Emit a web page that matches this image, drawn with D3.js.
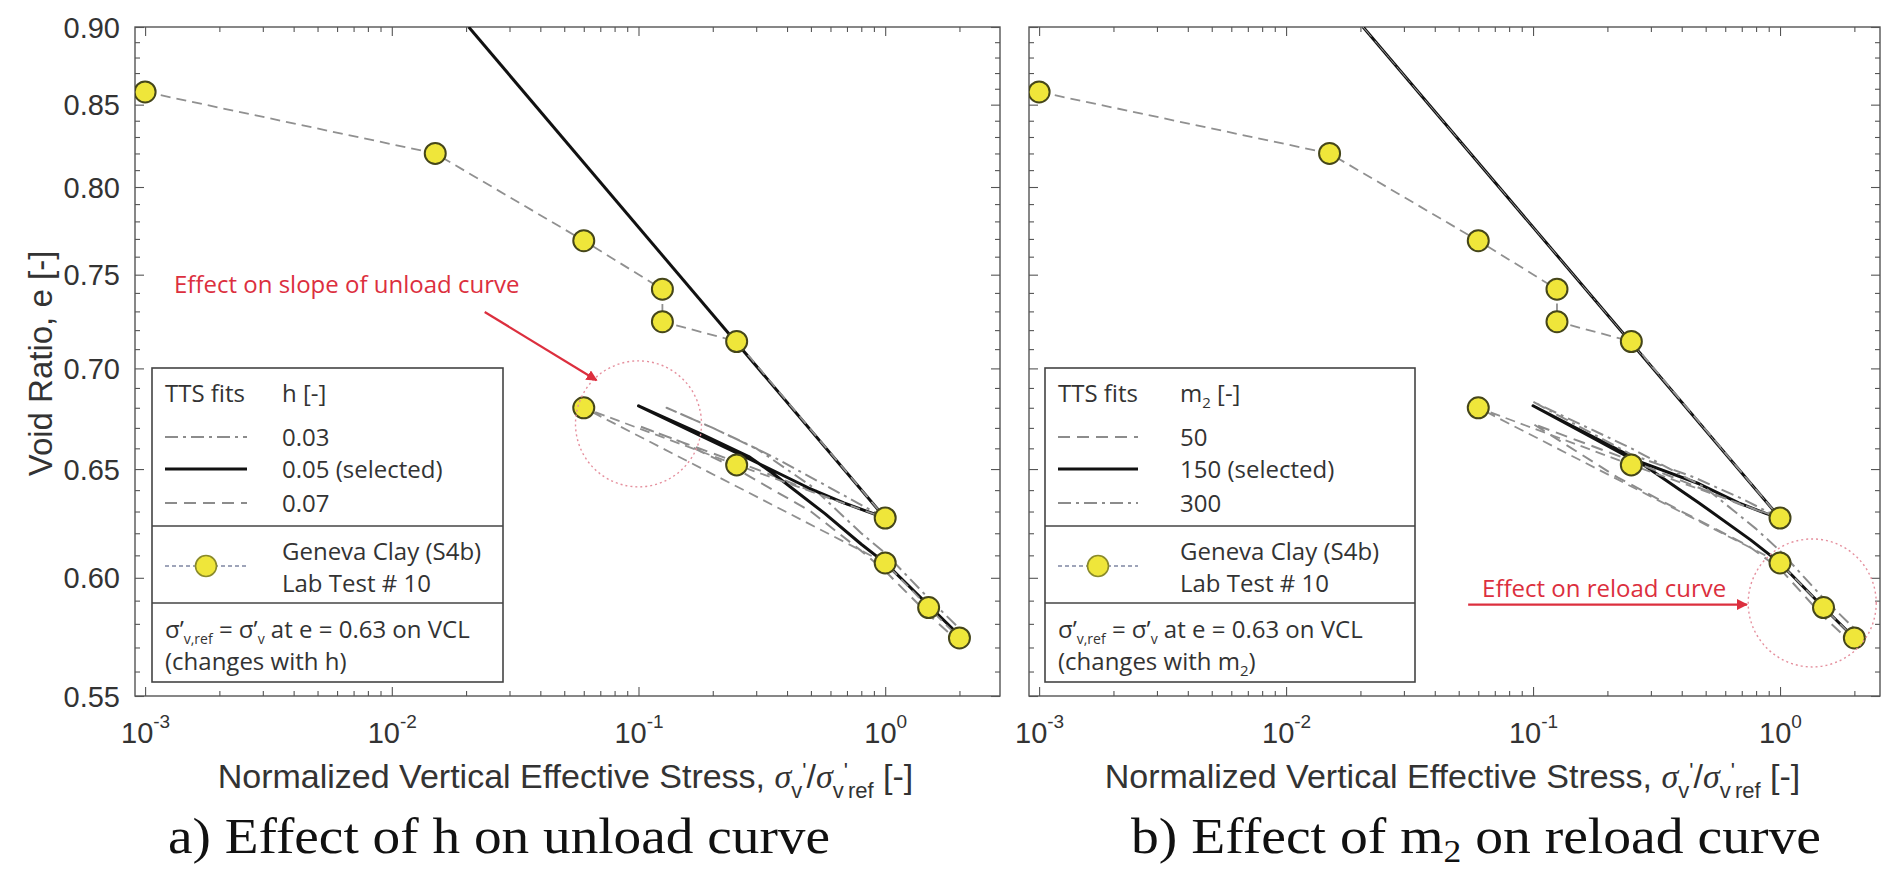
<!DOCTYPE html>
<html>
<head>
<meta charset="utf-8">
<script src="https://cdn.jsdelivr.net/npm/d3@7/dist/d3.min.js"></script>
<style>
  body { margin: 0; background: #fff; }
</style>
</head>
<body>
<div id="chart"></div>
<script>
// lab test #10 points, in test order (normalized stress, void ratio)
var labStress = [0.001, 0.015, 0.06, 0.125, 0.125, 0.25, 1.0, 0.25, 0.06, 1.0, 1.5, 2.0];
var labVoid   = [0.858, 0.820, 0.769, 0.742, 0.7245, 0.714, 0.627, 0.652, 0.680, 0.6066, 0.587, 0.574];

// virgin compression line
var vclStress = [0.0205, 1.0];
var vclVoid   = [0.900, 0.627];

// panel a: TTS fits for h (unload, then reload)
var h03Stress = [1.0, 0.6, 0.35, 0.2, 0.13, 0.2, 0.3, 0.5, 0.8, 1.0, 1.5, 2.0];
var h03Void   = [0.627, 0.641, 0.656, 0.670, 0.680, 0.670, 0.660, 0.642, 0.620, 0.611, 0.591, 0.578];
var h05Stress = [1.0, 0.68, 0.49, 0.28, 0.18, 0.1, 0.18, 0.28, 0.35, 0.57, 0.8, 1.0, 1.5, 2.0];
var h05Void   = [0.627, 0.634, 0.641, 0.655, 0.666, 0.681, 0.667, 0.656, 0.648, 0.629, 0.615, 0.6066, 0.588, 0.575];
var h07Stress = [1.0, 0.6, 0.3, 0.15, 0.1, 0.15, 0.25, 0.5, 0.8, 1.0, 1.5, 2.0];
var h07Void   = [0.627, 0.636, 0.650, 0.663, 0.671, 0.663, 0.650, 0.630, 0.612, 0.603, 0.584, 0.572];

// panel b: TTS fits for m2
var m50Stress  = [1.0, 0.7, 0.45, 0.25, 0.1, 0.22, 0.4, 0.75, 1.0, 1.5, 2.0];
var m50Void    = [0.627, 0.633, 0.642, 0.654, 0.672, 0.646, 0.630, 0.614, 0.604, 0.583, 0.571];
var m150Stress = [1.0, 0.88, 0.68, 0.47, 0.25, 0.1, 0.25, 0.47, 0.76, 1.0, 1.5, 2.0];
var m150Void   = [0.627, 0.629, 0.634, 0.643, 0.655, 0.681, 0.656, 0.634, 0.617, 0.6066, 0.587, 0.574];
var m300Stress = [1.0, 0.7, 0.45, 0.25, 0.1, 0.25, 0.5, 0.8, 1.0, 1.5, 2.0];
var m300Void   = [0.627, 0.636, 0.646, 0.657, 0.683, 0.660, 0.641, 0.622, 0.612, 0.591, 0.578];

// ticks and labels
var yTickVals = [0.55, 0.60, 0.65, 0.70, 0.75, 0.80, 0.85, 0.90];
var xTickExps = [-3, -2, -1, 0];
var hLabels  = ["0.03", "0.05 (selected)", "0.07"];
var m2Labels = ["50", "150 (selected)", "300"];

var W = 1886, H = 871;
var plotTop = 27, plotBottom = 696;
var axisColor = "#555";
var textColor = "#333";
var redColor = "#dc2f3e";

var svg = d3.select("#chart").append("svg")
  .attr("width", W)
  .attr("height", H)
  .style("font-family", "'Liberation Sans', Arial, sans-serif");

var defs = svg.append("defs");
defs.append("marker")
  .attr("id", "arrowhead")
  .attr("viewBox", "0 0 10 10")
  .attr("refX", 9).attr("refY", 5)
  .attr("markerWidth", 5).attr("markerHeight", 5)
  .attr("orient", "auto")
  .append("path")
  .attr("d", "M0,0 L10,5 L0,10 z")
  .attr("fill", redColor);

var yScale = d3.scaleLog().domain([0.55, 0.90]).range([plotBottom, plotTop]);

var styles = {
  solid:   { stroke: "#111", width: 3, dash: null },
  dashed:  { stroke: "#8c8c8c", width: 2, dash: "12,7" },
  dashdot: { stroke: "#8c8c8c", width: 2, dash: "13,5,3,5" }
};

// helper: append text pieces, [text, isSub]
function addParts(textSel, parts, subSize, shift) {
  var down = false;
  parts.forEach(function(p) {
    var ts = textSel.append("tspan").text(p[0]);
    if (p[1] && !down) { ts.attr("dy", shift).attr("font-size", subSize); down = true; }
    else if (p[1]) { ts.attr("font-size", subSize); }
    else if (down) { ts.attr("dy", -shift); down = false; }
  });
}

var panels = [
  {
    id: "a", left: 135, right: 1000, xDomain: [0.00091, 2.92], yLabels: true,
    fits: [
      { s: h03Stress, e: h03Void, style: "dashdot" },
      { s: h07Stress, e: h07Void, style: "dashed" },
      { s: h05Stress, e: h05Void, style: "solid" }
    ],
    legendFits: ["dashdot", "solid", "dashed"],
    legendLabels: hLabels,
    legendX: 152, legendW: 351, labelOff: 130, sampleW: 82,
    header2: [["h [-]", 0]],
    note2: [["(changes with h)", 0]],
    circle: [0.1, 0.672, 63],
    note: { text: "Effect on slope of unload curve", s: 0.00131, e: 0.740 },
    arrow: [0.0238, 0.7297, 0.0676, 0.6939],
    caption: [["a) Effect of h on unload curve", 0]], capX: 168, capLen: 662
  },
  {
    id: "b", left: 1029, right: 1880, xDomain: [0.00091, 2.54], yLabels: false,
    fits: [
      { s: m150Stress, e: m150Void, style: "solid" },
      { s: m50Stress, e: m50Void, style: "dashed" },
      { s: m300Stress, e: m300Void, style: "dashdot" }
    ],
    legendFits: ["dashed", "solid", "dashdot"],
    legendLabels: m2Labels,
    legendX: 1045, legendW: 370, labelOff: 135, sampleW: 80,
    header2: [["m", 0], ["2", 1], [" [-]", 0]],
    note2: [["(changes with m", 0], ["2", 1], [")", 0]],
    circle: [1.35, 0.589, 64],
    note: { text: "Effect on reload curve", s: 0.0622, e: 0.5917 },
    arrow: [0.0546, 0.5883, 0.734, 0.5883],
    caption: [["b) Effect of m", 0], ["2", 1], [" on reload curve", 0]], capX: 1131, capLen: 690
  }
];

panels.forEach(drawPanel);

function drawPanel(p) {
  var x = d3.scaleLog().domain(p.xDomain).range([p.left, p.right]);
  var g = svg.append("g").attr("id", "panel-" + p.id);

  var majorX = xTickExps.map(function(k) { return Math.pow(10, k); });
  var minorX = [];
  for (var k = -4; k <= 0; k++) {
    for (var m = 2; m <= 9; m++) {
      var v = m * Math.pow(10, k);
      if (v > p.xDomain[0] && v < p.xDomain[1]) minorX.push(v);
    }
  }
  var minorY = d3.range(55, 91).map(function(d) { return d / 100; })
    .filter(function(d) { return Math.round(d * 100) % 5 !== 0; });

  // frame
  g.append("rect")
    .attr("x", p.left).attr("y", plotTop)
    .attr("width", p.right - p.left).attr("height", plotBottom - plotTop)
    .attr("fill", "none").attr("stroke", axisColor).attr("stroke-width", 1.4);

  // tick marks on all four sides, pointing inward
  function ticks(axisFn, scale, vals, size, tx, ty) {
    var a = g.append("g")
      .attr("transform", "translate(" + tx + "," + ty + ")")
      .attr("color", axisColor)
      .call(axisFn(scale).tickValues(vals).tickSize(size).tickSizeOuter(0).tickFormat(""));
    a.select(".domain").remove();
    a.selectAll(".tick line").attr("stroke-width", 1.1);
    return a;
  }
  var xBottom = ticks(d3.axisBottom, x, majorX, -9, 0, plotBottom);
  ticks(d3.axisBottom, x, minorX, -5, 0, plotBottom);
  ticks(d3.axisTop, x, majorX, -9, 0, plotTop);
  ticks(d3.axisTop, x, minorX, -5, 0, plotTop);
  var yLeft = ticks(d3.axisLeft, yScale, yTickVals, -9, p.left, 0);
  ticks(d3.axisLeft, yScale, minorY, -5, p.left, 0);
  ticks(d3.axisRight, yScale, yTickVals, -9, p.right, 0);
  ticks(d3.axisRight, yScale, minorY, -5, p.right, 0);

  // x tick labels 10^k
  xBottom.selectAll(".tick").each(function(d) {
    var t = d3.select(this).append("text")
      .attr("y", 47)
      .attr("text-anchor", "middle")
      .attr("fill", textColor)
      .attr("font-size", 29)
      .attr("font-family", "'Liberation Sans', Arial, sans-serif");
    t.append("tspan").text("10");
    t.append("tspan").attr("dy", -15).attr("font-size", 19)
      .text(Math.round(Math.log10(d)));
  });

  if (p.yLabels) {
    yLeft.selectAll(".tick").append("text")
      .attr("x", -15)
      .attr("dy", "0.35em")
      .attr("text-anchor", "end")
      .attr("fill", textColor)
      .attr("font-size", 29)
      .attr("font-family", "'Liberation Sans', Arial, sans-serif")
      .text(function(d) { return d3.format(".2f")(d); });

    svg.append("text")
      .attr("transform", "translate(52," + ((plotTop + plotBottom) / 2 + 2) + ") rotate(-90)")
      .attr("text-anchor", "middle")
      .attr("fill", textColor)
      .attr("font-size", 33)
      .text("Void Ratio, e [-]");
  }

  // x axis title
  var xt = g.append("text")
    .attr("x", (p.left + p.right) / 2 - 2)
    .attr("y", 788)
    .attr("text-anchor", "middle")
    .attr("fill", textColor)
    .attr("font-size", 34);
  xt.append("tspan").text("Normalized Vertical Effective Stress, ");
  var serif = "'Liberation Serif', 'Times New Roman', serif";
  xt.append("tspan").attr("font-family", serif).attr("font-style", "italic").text("σ");
  xt.append("tspan").attr("dy", 10).attr("font-size", 22).text("v");
  xt.append("tspan").attr("dy", -20).attr("font-size", 22).text("'");
  xt.append("tspan").attr("dy", 10).text("/");
  xt.append("tspan").attr("font-family", serif).attr("font-style", "italic").text("σ");
  xt.append("tspan").attr("dy", 10).attr("font-size", 22).text("v");
  xt.append("tspan").attr("dy", -20).attr("font-size", 22).text("'");
  xt.append("tspan").attr("dy", 20).attr("font-size", 22).text("ref");
  xt.append("tspan").attr("dy", -10).text(" [-]");

  // clip for curves
  defs.append("clipPath").attr("id", "clip-" + p.id)
    .append("rect")
    .attr("x", p.left).attr("y", plotTop)
    .attr("width", p.right - p.left).attr("height", plotBottom - plotTop);
  var plot = g.append("g").attr("clip-path", "url(#clip-" + p.id + ")");

  var line = d3.line()
    .x(function(d) { return x(d[0]); })
    .y(function(d) { return yScale(d[1]); });

  // fits: VCL + unload/reload for each parameter value
  var vcl = vclStress.map(function(s, i) { return [s, vclVoid[i]]; });
  p.fits.forEach(function(f) {
    var st = styles[f.style];
    var curve = f.s.map(function(s, i) { return [s, f.e[i]]; });
    // the grey VCL copies sit thin on top of the black one
    plot.append("path")
      .datum(vcl)
      .attr("d", line)
      .attr("fill", "none")
      .attr("stroke", st.stroke)
      .attr("stroke-width", f.style == "solid" ? st.width : 1)
      .attr("stroke-dasharray", st.dash);
    plot.append("path")
      .datum(curve)
      .attr("d", line)
      .attr("fill", "none")
      .attr("stroke", st.stroke)
      .attr("stroke-width", st.width)
      .attr("stroke-dasharray", st.dash)
      .attr("stroke-linejoin", "round");
  });

  // lab data
  var lab = labStress.map(function(s, i) { return [s, labVoid[i]]; });
  plot.append("path")
    .datum(lab)
    .attr("d", line)
    .attr("fill", "none")
    .attr("stroke", "#909090")
    .attr("stroke-width", 1.8)
    .attr("stroke-dasharray", "10,6");
  plot.selectAll("circle.lab")
    .data(lab)
    .enter()
    .append("circle")
    .attr("class", "lab")
    .attr("cx", function(d) { return x(d[0]); })
    .attr("cy", function(d) { return yScale(d[1]); })
    .attr("r", 10.5)
    .attr("fill", "#efe63a")
    .attr("stroke", "#45461a")
    .attr("stroke-width", 2);

  // annotation: dotted circle, red text, arrow
  g.append("circle")
    .attr("cx", x(p.circle[0])).attr("cy", yScale(p.circle[1])).attr("r", p.circle[2])
    .attr("fill", "none").attr("stroke", "#e58f9d")
    .attr("stroke-width", 1.4).attr("stroke-dasharray", "2,3");
  g.append("text")
    .attr("x", x(p.note.s)).attr("y", yScale(p.note.e))
    .attr("fill", redColor)
    .attr("font-family", "'Open Sans', sans-serif")
    .attr("font-size", 24)
    .text(p.note.text);
  g.append("line")
    .attr("x1", x(p.arrow[0])).attr("y1", yScale(p.arrow[1]))
    .attr("x2", x(p.arrow[2])).attr("y2", yScale(p.arrow[3]))
    .attr("stroke", redColor).attr("stroke-width", 2.2)
    .attr("marker-end", "url(#arrowhead)");

  drawLegend(g, p);

  // caption
  var cap = svg.append("text")
    .attr("x", p.capX).attr("y", 853)
    .attr("fill", "#111")
    .attr("font-family", "'Liberation Serif', 'Times New Roman', serif")
    .attr("font-size", 50)
    .attr("textLength", p.capLen)
    .attr("lengthAdjust", "spacingAndGlyphs");
  addParts(cap, p.caption, 32, 9);
}

function drawLegend(g, p) {
  var lx = p.legendX, top = 368, bottom = 682;
  var lg = g.append("g").attr("font-family", "'Open Sans', sans-serif").attr("fill", textColor);
  lg.append("rect")
    .attr("x", lx).attr("y", top).attr("width", p.legendW).attr("height", bottom - top)
    .attr("fill", "#fff").attr("stroke", "#444").attr("stroke-width", 1.6);
  [526, 603].forEach(function(yy) {
    lg.append("line").attr("x1", lx).attr("x2", lx + p.legendW)
      .attr("y1", yy).attr("y2", yy).attr("stroke", "#444").attr("stroke-width", 1.6);
  });

  var sx0 = lx + 13, sx1 = lx + 13 + p.sampleW, tx = lx + p.labelOff;
  lg.append("text").attr("x", sx0).attr("y", 402).attr("font-size", 24).text("TTS fits");
  var h2 = lg.append("text").attr("x", tx).attr("y", 402).attr("font-size", 24);
  addParts(h2, p.header2, 15, 6);

  var rowY = [437, 469, 503];
  p.legendFits.forEach(function(sname, i) {
    var st = styles[sname];
    lg.append("line")
      .attr("x1", sx0).attr("x2", sx1).attr("y1", rowY[i]).attr("y2", rowY[i])
      .attr("stroke", st.stroke).attr("stroke-width", st.width)
      .attr("stroke-dasharray", st.dash);
    lg.append("text").attr("x", tx).attr("y", rowY[i] + 9).attr("font-size", 24)
      .text(p.legendLabels[i]);
  });

  // data entry
  lg.append("line")
    .attr("x1", sx0).attr("x2", sx1).attr("y1", 566).attr("y2", 566)
    .attr("stroke", "#7f87a3").attr("stroke-width", 1.5).attr("stroke-dasharray", "4,3");
  lg.append("circle")
    .attr("cx", (sx0 + sx1) / 2).attr("cy", 566).attr("r", 10.5)
    .attr("fill", "#efe63a").attr("stroke", "#8a8a2a").attr("stroke-width", 1.6);
  lg.append("text").attr("x", tx).attr("y", 560).attr("font-size", 24).text("Geneva Clay (S4b)");
  lg.append("text").attr("x", tx).attr("y", 592).attr("font-size", 24).text("Lab Test # 10");

  // reference stress note
  var n1 = lg.append("text").attr("x", sx0).attr("y", 638).attr("font-size", 24);
  addParts(n1, [["σ’", 0], ["v,ref", 1], [" = σ’", 0], ["v", 1], [" at e = 0.63 on VCL", 0]], 14, 6);
  var n2 = lg.append("text").attr("x", sx0).attr("y", 670).attr("font-size", 24);
  addParts(n2, p.note2, 15, 6);
}
</script>
</body>
</html>
